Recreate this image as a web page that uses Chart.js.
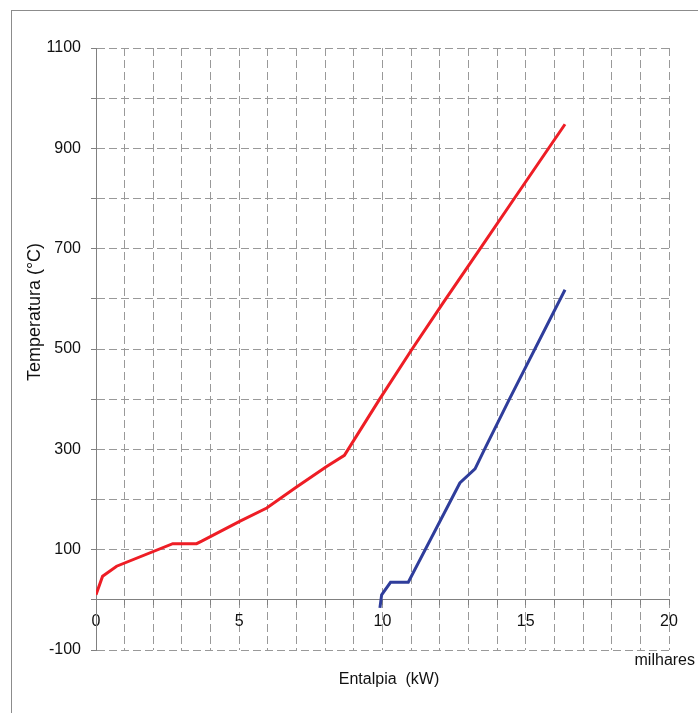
<!DOCTYPE html>
<html>
<head>
<meta charset="utf-8">
<script src="https://cdn.jsdelivr.net/npm/chart.js@4.4.1/dist/chart.umd.min.js"></script>
<style>
  html,body{margin:0;padding:0;background:#fff;}
  #wrap{position:relative;width:698px;height:713px;overflow:hidden;}
  #frame{position:absolute;left:11px;top:10px;width:800px;height:800px;border:1px solid #8c8c8c;}
  #chart{position:absolute;left:0;top:0;}
</style>
</head>
<body>
<div id="wrap">
  <div id="frame"></div>
  <canvas id="chart" width="698" height="713"></canvas>
</div>
<script>
// Data (enthalpy in thousands of kW, temperature in °C)
const hotX = [0, 0.23, 0.72, 2.68, 3.51, 3.69, 5.03, 5.96, 7.0, 8.05, 8.67, 9.9, 11.0, 12.15, 13.35, 14.6, 16.37];
const hotY = [10, 47, 67, 112, 112, 117, 157, 183, 225, 266, 288, 400, 497, 595, 695, 800, 948];
const coldX = [9.91, 9.97, 10.28, 10.9, 12.7, 13.23, 13.56, 14.43, 16.37];
const coldY = [-16, 10, 35, 35, 233, 261, 300, 400, 618];

const xLabels = [0, 5, 10, 15, 20];
const yLabels = [-100, 100, 300, 500, 700, 900, 1100];

const xTitle = 'Entalpia  (kW)';
const yTitle = 'Temperatura (°C)';
const xUnit = 'milhares';

const FONT = "'Liberation Sans', Arial, sans-serif";
const AXIS = '#808080';
const GRID = '#999999';

function pts(xs, ys){ return xs.map((x,i)=>({x:x, y:ys[i]})); }

// axis titles drawn by hand (Excel-like placement)
const axisText = {
  id:'axisText',
  afterDraw(chart){
    const ctx = chart.ctx;
    ctx.save();
    ctx.fillStyle = '#111';
    ctx.font = '16px ' + FONT;
    ctx.textAlign = 'center';
    ctx.textBaseline = 'middle';
    ctx.fillText(xTitle, 389, 680);
    ctx.textAlign = 'right';
    ctx.fillText(xUnit, 695, 661);
    ctx.translate(35, 312);
    ctx.rotate(-Math.PI/2);
    ctx.font = '18px ' + FONT;
    ctx.textAlign = 'center';
    ctx.fillText(yTitle, 0, 0);
    ctx.restore();
  }
};

new Chart(document.getElementById('chart'), {
  type:'scatter',
  data:{
    datasets:[
      {label:'quente', data:pts(hotX, hotY), showLine:true, borderColor:'#ee1d25', borderWidth:3, pointRadius:0, tension:0},
      {label:'fria', data:pts(coldX, coldY), showLine:true, borderColor:'#2f3d9b', borderWidth:3, pointRadius:0, tension:0}
    ]
  },
  options:{
    responsive:false,
    animation:false,
    devicePixelRatio:1,
    layout:{padding:{left:0, top:48, right:29, bottom:63}},
    plugins:{legend:{display:false}, tooltip:{enabled:false}},
    scales:{
      x:{
        type:'linear', min:0, max:20,
        position:{y:0},
        ticks:{stepSize:1, autoSkip:false, maxRotation:0, padding:7, color:'#111',
          font:{family:FONT, size:16},
          callback:v=> xLabels.includes(v) ? String(v) : ''},
        grid:{color:GRID, lineWidth:1, tickLength:5, tickColor:AXIS, tickBorderDash:[]},
        border:{display:true, color:AXIS, width:1, dash:[8,4]}
      },
      y:{
        type:'linear', min:-100, max:1100,
        afterFit:s=>{ s.width = 96; },
        ticks:{stepSize:100, autoSkip:false, padding:10, color:'#111',
          font:{family:FONT, size:16},
          callback:v=> yLabels.includes(v) ? String(v) : ''},
        grid:{color:GRID, lineWidth:1, tickLength:5, tickColor:AXIS, tickBorderDash:[]},
        border:{display:true, color:AXIS, width:1, dash:[8,4]}
      }
    }
  },
  plugins:[axisText]
});
</script>
</body>
</html>
